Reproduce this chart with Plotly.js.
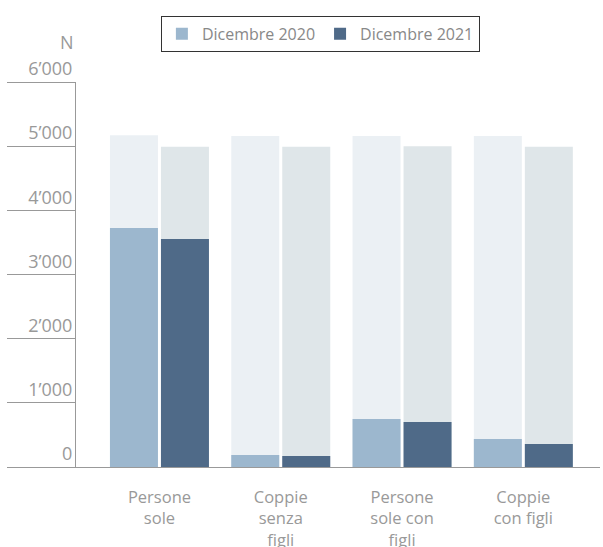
<!DOCTYPE html>
<html>
<head>
<meta charset="utf-8">
<script src="https://cdn.plot.ly/plotly-3.0.1.min.js"></script>
<style>html,body{margin:0;padding:0;background:#fff;}#chart{width:603px;height:547px;}</style>
</head>
<body>
<div id="chart"></div>
<script>
const categories = ["Persone<br>sole", "Coppie<br>senza<br>figli", "Persone<br>sole con<br>figli", "Coppie<br>con figli"];
const seriesNames = ["Dicembre 2020", "Dicembre 2021"];
const values2020 = [3725, 187, 748, 436];
const values2021 = [3553, 171, 701, 358];
const totals2020 = [5170, 5160, 5160, 5160];
const totals2021 = [4990, 4990, 5000, 4990];
const yTicks = [0, 1000, 2000, 3000, 4000, 5000, 6000];

const fontFam = "Open Sans, Lato, sans-serif";
const traces = [
  {type: "bar", x: categories, y: totals2020, offsetgroup: "a", marker: {color: "#EBF0F4"}, showlegend: false, hoverinfo: "skip"},
  {type: "bar", x: categories, y: totals2021, offsetgroup: "b", marker: {color: "#DFE6E9"}, showlegend: false, hoverinfo: "skip"},
  {type: "bar", x: categories, y: values2020, offsetgroup: "a", name: seriesNames[0], marker: {color: "#9CB7CE"}},
  {type: "bar", x: categories, y: values2021, offsetgroup: "b", name: seriesNames[1], marker: {color: "#4F6A88"}}
];

const layout = {
  width: 603, height: 547,
  margin: {l: 76, r: 3, t: 82, b: 80, pad: 0},
  paper_bgcolor: "#fff", plot_bgcolor: "#fff",
  barmode: "group", bargap: 0.159, bargroupgap: 0.059,
  separators: ".’",
  font: {family: fontFam, color: "#999", size: 16},
  xaxis: {
    type: "category", range: [-0.688, 3.632],
    showline: true, linecolor: "#999", linewidth: 1,
    ticks: "", showgrid: false, zeroline: false,
    tickfont: {family: fontFam, size: 16.5, color: "#999"},
    ticklabelstandoff: 15
  },
  yaxis: {
    range: [0, 6000], tickvals: yTicks, tickformat: ",d",
    showline: true, linecolor: "#999", linewidth: 1,
    ticks: "outside", ticklen: 68, tickcolor: "#999", tickwidth: 1,
    showgrid: false, zeroline: false,
    ticklabelposition: "outside top", ticklabelstandoff: -1,
    tickfont: {family: fontFam, size: 18, color: "#999"}
  },
  legend: {
    orientation: "h", x: 0.162, y: 1.172, xanchor: "left", yanchor: "top",
    bordercolor: "#333", borderwidth: 1, bgcolor: "#fff",
    font: {family: fontFam, size: 16, color: "#888"}
  },
  annotations: [
    {text: "N", xref: "paper", yref: "paper", x: 0, y: 1.104, xanchor: "right", yanchor: "middle",
     showarrow: false, font: {family: fontFam, size: 18, color: "#999"}}
  ]
};

Plotly.newPlot("chart", traces, layout, {displayModeBar: false, staticPlot: true});
</script>
</body>
</html>
